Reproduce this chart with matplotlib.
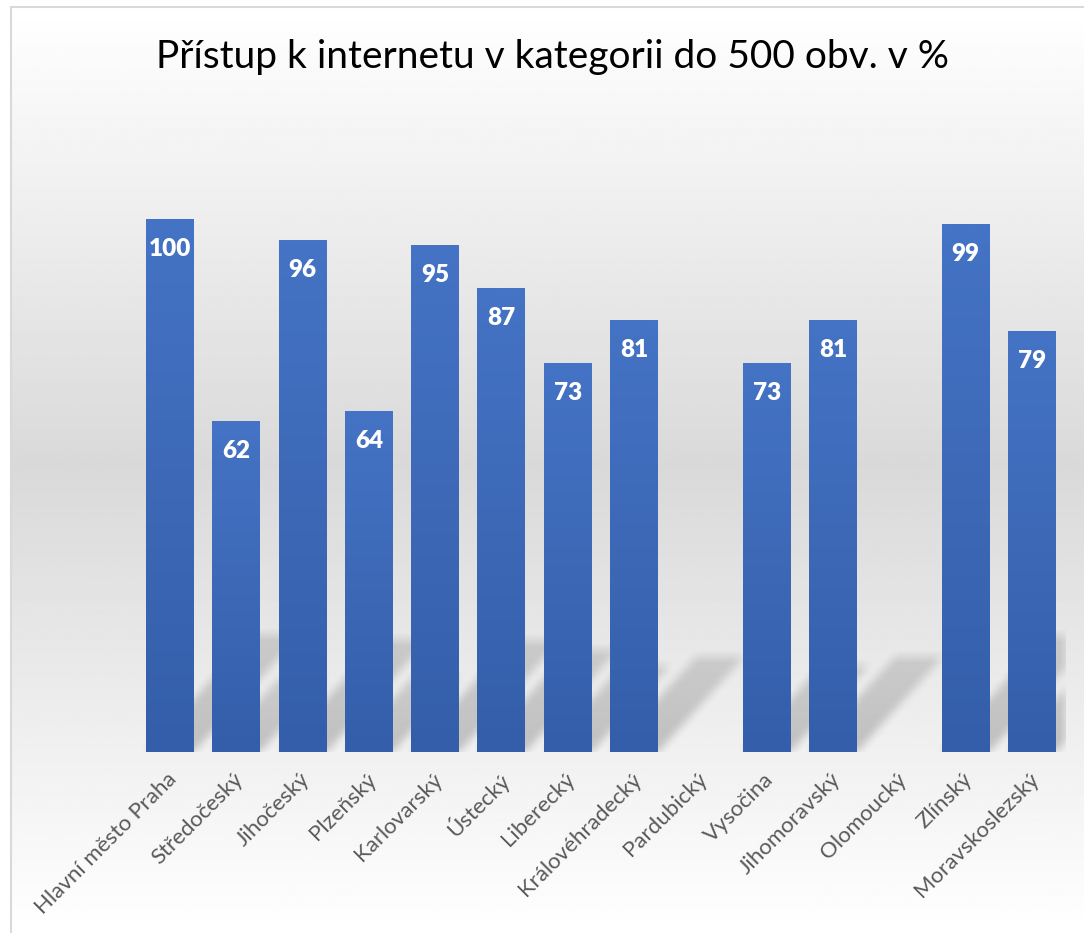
import numpy as np
import matplotlib
matplotlib.use("Agg")
import matplotlib.pyplot as plt
from matplotlib.colors import LinearSegmentedColormap
from matplotlib.lines import Line2D
from matplotlib.transforms import ScaledTranslation

# ---------------- data ----------------
categories = ["Hlavní město Praha", "Středočeský", "Jihočeský", "Plzeňský",
              "Karlovarský", "Ústecký", "Liberecký", "Královéhradecký",
              "Pardubický", "Vysočina", "Jihomoravský", "Olomoucký",
              "Zlínský", "Moravskoslezský"]
values = [100, 62, 96, 64, 95, 87, 73, 81, np.nan, 73, 81, np.nan, 99, 79]
title = "Přístup k internetu v kategorii do 500 obv. v %"

plt.rcParams['font.family'] = ['Lato', 'DejaVu Sans']

W, H = 1084, 933
fig = plt.figure(figsize=(W / 100, H / 100), dpi=100)
fig.patch.set_facecolor('white')

# ---------------- chart-area background gradient ----------------
bg = fig.add_axes([11 / W, 0, 1 - 11 / W, (H - 8) / H], zorder=0)
bg.set_axis_off()
ys = np.linspace(0, 1, 400)
peak = (H - 466) / (H - 8)
g = np.where(ys < peak, ys / peak, (1 - ys) / (1 - peak))
g = 1.0 - g * (1 - 0xd9 / 255)
bg.imshow(np.repeat(g[:, None], 2, axis=1)[::-1], cmap='gray', vmin=0, vmax=1,
          aspect='auto', extent=[0, 1, 0, 1], interpolation='bilinear')
bg.set_xlim(0, 1)
bg.set_ylim(0, 1)
fig.add_artist(Line2D([10.5 / W, 10.5 / W], [0, (H - 7) / H], color='#d9d9d9', lw=1.5))
fig.add_artist(Line2D([10.5 / W, 1], [(H - 7) / H, (H - 7) / H], color='#d9d9d9', lw=1.5))

# ---------------- main axes ----------------
left, right = 136.85 / W, 1065 / W
bottom, top = (H - 752) / H, (H - 112) / H
ax = fig.add_axes([left, bottom, right - left, top - bottom], zorder=1)
ax.patch.set_alpha(0)
x = np.arange(len(categories))
vals = np.array(values, dtype=float)
width = 0.724
ax.set_xlim(-0.5, len(categories) - 0.5)
ax.set_ylim(0, 120)
for s in ax.spines.values():
    s.set_visible(False)
ax.set_yticks([])

# ---------------- shadows (blurred sheared reflections) ----------------
ymax_sh = 34.0
nx, ny = 928, 181
gx = np.linspace(-0.5, len(categories) - 0.5, nx)
gy = np.linspace(0, ymax_sh, ny)
XX, YY = np.meshgrid(gx, gy)
mask = np.zeros_like(XX)
ratio = 0.22
shear = 0.9 * 5.33 / 66.3
for xi, v in zip(x, vals):
    if np.isnan(v):
        continue
    hh = ratio * v
    x0 = xi - width / 2 + shear * YY
    x1 = xi + width / 2 + shear * YY
    inside = (XX >= x0) & (XX <= x1) & (YY <= hh)
    mask = np.maximum(mask, inside * (1.0 - 0.35 * YY / max(hh, 1e-9)))
k = np.ones(13) / 13
mask = np.apply_along_axis(lambda r: np.convolve(r, k, mode='same'), 1, mask)
mask = np.apply_along_axis(lambda c: np.convolve(c, k, mode='same'), 0, mask)
rgba = np.zeros((ny, nx, 4))
rgba[..., 3] = mask * 0.2
ax.imshow(rgba, origin='lower', extent=[gx[0], gx[-1], 0, ymax_sh],
          aspect='auto', zorder=1, interpolation='bilinear')
ax.set_xlim(-0.5, len(categories) - 0.5)
ax.set_ylim(0, 120)

# ---------------- bars with vertical gradient ----------------
bars = ax.bar(x, np.nan_to_num(vals), width=width, color='#4472c4', zorder=2)
cmap = LinearSegmentedColormap.from_list('bar', ['#345ea9', '#4573c5'])
grad = np.linspace(0, 1, 256)[:, None]
for b, v in zip(bars, vals):
    if np.isnan(v):
        b.set_visible(False)
        continue
    bx, bw, bh = b.get_x(), b.get_width(), b.get_height()
    im = ax.imshow(grad, cmap=cmap, origin='lower', aspect='auto',
                   extent=[bx, bx + bw, 0, bh], zorder=3)
    im.set_clip_path(b)
    ax.annotate(f"{v:.0f}", (b.get_x() + bw / 2, bh), xytext=(0, -21.5),
                textcoords='offset points', ha='center', va='center',
                color='white', fontsize=17.5, fontweight='heavy', zorder=4)
ax.set_xlim(-0.5, len(categories) - 0.5)
ax.set_ylim(0, 120)

# ---------------- ticks & title ----------------
ax.set_xticks(x)
ax.set_xticklabels(categories, rotation=45, ha='right', va='center',
                   rotation_mode='anchor', fontsize=16, color='#595959')
ax.tick_params(axis='x', length=0, pad=16)
offset = ScaledTranslation(4 / 100, -2 / 100, fig.dpi_scale_trans)
for lbl in ax.get_xticklabels():
    lbl.set_transform(lbl.get_transform() + offset)

fig.text(552 / W, (H - 57) / H, title, ha='center', va='center',
         fontsize=28, color='black')

fig.savefig('out.png', dpi=100)
